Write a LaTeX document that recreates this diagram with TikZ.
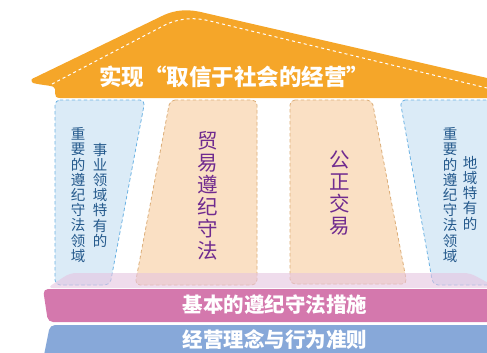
\documentclass[tikz,border=0pt]{standalone}
\usepackage{fontspec}
\newfontfamily\cjk{Noto Sans CJK SC}
\usepackage{pgf,tikz}
\usetikzlibrary{arrows}
\definecolor{ffaa2a}{rgb}{0.96,0.65,0.16}
\definecolor{ddeaf8}{rgb}{0.86,0.92,0.97}
\definecolor{66aadd}{rgb}{0.42,0.70,0.89}
\definecolor{fbe0c4}{rgb}{0.98,0.88,0.77}
\definecolor{ddaa77}{rgb}{0.86,0.68,0.47}
\definecolor{d479ad}{rgb}{0.83,0.47,0.68}
\definecolor{e6c4e0}{rgb}{0.90,0.77,0.88}
\definecolor{88aadd}{rgb}{0.53,0.66,0.85}
\definecolor{225588}{rgb}{0.14,0.35,0.55}
\definecolor{702a90}{rgb}{0.44,0.17,0.56}
\tikzset{
  bluecol/.style={fill=ddeaf8,draw=66aadd,dashed,line width=0.8pt,rounded corners=5pt},
  peachcol/.style={fill=fbe0c4,draw=ddaa77,dashed,line width=0.8pt,rounded corners=5pt},
  smalltext/.style={inner sep=0pt,align=center,color=225588,font=\cjk\fontsize{14.5}{15.2}\selectfont},
  bigtext/.style={inner sep=0pt,align=center,color=702a90,font=\cjk\fontsize{20.5}{22}\selectfont},
  bandtext/.style={inner sep=0pt,color=white,font=\cjk\bfseries\fontsize{20.5}{21}\selectfont},
  rooftext/.style={inner sep=0pt,color=white,font=\cjk\bfseries\fontsize{22.5}{23}\selectfont}
}

\begin{document}
\begin{tikzpicture}[line cap=round,line join=round,>=triangle 45,x=1.0pt,y=-1.0pt,scale=1]
\useasboundingbox (0,0) rectangle (487,353);
\clip(0,0) rectangle (487,353);
% roof
\fill[color=ffaa2a] (33,83) .. controls (30,80) and (31,79) .. (36,77) -- (162,16) .. controls (176,9) and (190,9) .. (205,13) -- (487,78) -- (487,98) -- (60,98) .. controls (56,98) and (55,96) .. (55,93) -- (55,89) .. controls (55,85) and (45,86) .. (33,83) -- cycle;
\draw[color=white,dashed,line width=1pt,line cap=butt] (52,84) -- (163,26) .. controls (178,18) and (195,17) .. (210,21) -- (487,88);
\node[rooftext] (roof) at (234,77) {实现\makebox[1em][r]{“}取信于社会的经营\makebox[1em][l]{”}};
% pillars
\draw[bluecol] (55,100) -- (145,100) -- (110,285) -- (55,285) -- cycle;
\draw[peachcol] (170,100) -- (257,100) -- (257,285) -- (135,285) -- cycle;
\draw[peachcol] (290,100) -- (372,100) -- (407,284) -- (290,284) -- cycle;
\draw[bluecol] (400,100) -- (500,100) -- (500,285) -- (433,285) -- cycle;
\node[smalltext] (leftA) at (78,195) {重\\要\\的\\遵\\纪\\守\\法\\领\\域};
\node[smalltext] (leftB) at (100,195) {事\\业\\领\\域\\特\\有\\的};
\node[bigtext] (trade) at (208,196) {贸\\易\\遵\\纪\\守\\法};
\node[bigtext] (fair) at (340,193) {公\\正\\交\\易};
\node[smalltext] (rightA) at (450,195) {重\\要\\的\\遵\\纪\\守\\法\\领\\域};
\node[smalltext] (rightB) at (470,193) {地\\域\\特\\有\\的};
% base
\fill[color=e6c4e0,fill opacity=0.6,rounded corners=6pt] (47,288) -- (70,273) -- (470,273) -- (492,285) -- (492,288) -- cycle;
\fill[color=d479ad,rounded corners=5pt] (43,289) -- (495,289) -- (495,322) -- (48,322) -- cycle;
\node[bandtext] (rules) at (275,305) {基本的遵纪守法措施};
\fill[color=88aadd,rounded corners=5pt] (50,325) -- (495,325) -- (495,365) -- (42,365) -- cycle;
\node[bandtext] (values) at (275,340) {经营理念与行为准则};
\end{tikzpicture}
\end{document}
